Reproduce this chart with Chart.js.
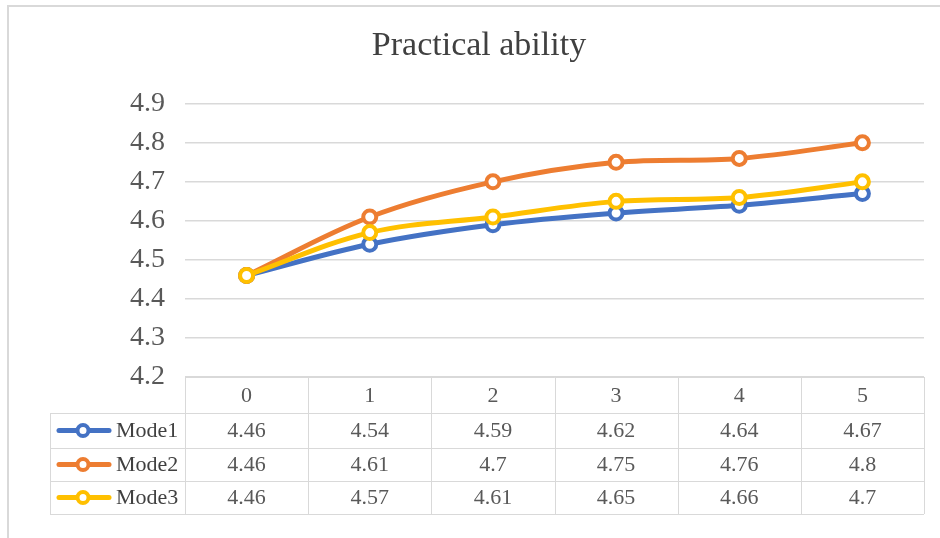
<!DOCTYPE html>
<html>
<head>
<meta charset="utf-8">
<script src="https://cdn.jsdelivr.net/npm/chart.js@4"></script>
<style>
  body { margin: 0; background: #fff; }
  #wrap { width: 940px; height: 538px; }
</style>
</head>
<body>
<div id="wrap"><canvas id="abilityChart" width="940" height="538"></canvas></div>
<script>
const rounds = ['0', '1', '2', '3', '4', '5'];
const mode1 = [4.46, 4.54, 4.59, 4.62, 4.64, 4.67];
const mode2 = [4.46, 4.61, 4.7, 4.75, 4.76, 4.8];
const mode3 = [4.46, 4.57, 4.61, 4.65, 4.66, 4.7];
const seriesNames = ['Mode1', 'Mode2', 'Mode3'];
const seriesColors = ['#4472C4', '#ED7D31', '#FFC000'];

const serif = "'Liberation Serif', 'Times New Roman', serif";
const gridColor = '#d9d9d9';
const textColor = '#595959';

// -----------------------
// data table under the plot, drawn from the same arrays
// -----------------------
const dataTable = {
  id: 'dataTable',
  afterDraw(chart) {
    const ctx = chart.ctx;
    const x = chart.scales.x;
    const area = chart.chartArea;
    const rowH = [36, 35, 33, 33];
    const top = area.bottom;
    const legendLeft = 50;
    const colW = (area.right - area.left) / rounds.length;
    const rows = [top];
    rowH.forEach(h => rows.push(rows[rows.length - 1] + h));

    ctx.save();
    // outer border of the chart box
    ctx.strokeStyle = gridColor;
    ctx.lineWidth = 2;
    ctx.beginPath();
    ctx.moveTo(8, 540);
    ctx.lineTo(8, 6);
    ctx.lineTo(942, 6);
    ctx.stroke();

    ctx.lineWidth = 1;
    ctx.strokeStyle = gridColor;
    ctx.beginPath();
    // horizontal rules
    ctx.moveTo(area.left, rows[0] + 0.5);
    ctx.lineTo(area.right, rows[0] + 0.5);
    for (let r = 1; r < rows.length; r++) {
      ctx.moveTo(legendLeft, rows[r] + 0.5);
      ctx.lineTo(area.right, rows[r] + 0.5);
    }
    // vertical rules
    ctx.moveTo(legendLeft + 0.5, rows[1]);
    ctx.lineTo(legendLeft + 0.5, rows[rows.length - 1]);
    for (let c = 0; c <= rounds.length; c++) {
      const cx = Math.round(area.left + c * colW) + 0.5;
      ctx.moveTo(cx, rows[0]);
      ctx.lineTo(cx, rows[rows.length - 1]);
    }
    ctx.stroke();

    ctx.fillStyle = textColor;
    ctx.font = '22px ' + serif;
    ctx.textAlign = 'center';
    ctx.textBaseline = 'middle';
    rounds.forEach((lbl, i) => {
      ctx.fillText(lbl, x.getPixelForValue(i), (rows[0] + rows[1]) / 2 + 1);
    });

    chart.data.datasets.forEach((ds, s) => {
      const cy = (rows[s + 1] + rows[s + 2]) / 2 + 1;
      ds.data.forEach((v, i) => {
        ctx.fillStyle = textColor;
        ctx.textAlign = 'center';
        ctx.fillText(String(v), x.getPixelForValue(i), cy);
      });
      // legend key
      ctx.strokeStyle = ds.borderColor;
      ctx.lineWidth = 5;
      ctx.lineCap = 'round';
      ctx.beginPath();
      ctx.moveTo(59, cy - 1);
      ctx.lineTo(109, cy - 1);
      ctx.stroke();
      ctx.fillStyle = '#fff';
      ctx.lineWidth = 4;
      ctx.beginPath();
      ctx.arc(83, cy - 1, 5.5, 0, Math.PI * 2);
      ctx.fill();
      ctx.stroke();
      ctx.fillStyle = '#404040';
      ctx.textAlign = 'left';
      ctx.fillText(seriesNames[s], 116, cy);
    });
    ctx.restore();
  }
};

const ctx = document.getElementById('abilityChart').getContext('2d');
const chart = new Chart(ctx, {
  type: 'line',
  data: {
    labels: rounds,
    datasets: [mode1, mode2, mode3].map((d, i) => ({
      label: seriesNames[i],
      data: d,
      borderColor: seriesColors[i],
      backgroundColor: '#fff',
      borderWidth: 5,
      tension: 0.35,
      pointRadius: 6.5,
      pointBorderWidth: 4,
      pointBackgroundColor: '#fff',
      pointBorderColor: seriesColors[i],
      order: 3 - i,
      fill: false
    }))
  },
  options: {
    responsive: false,
    animation: false,
    layout: { padding: { top: 8, left: 34, right: 16, bottom: 161 } },
    plugins: {
      legend: { display: false },
      tooltip: { enabled: false },
      title: {
        display: true,
        text: 'Practical ability',
        color: '#404040',
        font: { family: serif, size: 34, weight: 'normal' },
        padding: { top: 18, bottom: 37 }
      }
    },
    scales: {
      x: { display: false, offset: true },
      y: {
        min: 4.2,
        max: 4.9,
        border: { display: false },
        grid: { color: gridColor, lineWidth: 1.5, drawTicks: false },
        ticks: {
          stepSize: 0.1,
          padding: 20,
          color: textColor,
          font: { family: serif, size: 28 },
          callback: v => v.toFixed(1)
        },
        afterFit: scale => { scale.width = 151; }
      }
    }
  },
  plugins: [dataTable]
});
</script>
</body>
</html>
